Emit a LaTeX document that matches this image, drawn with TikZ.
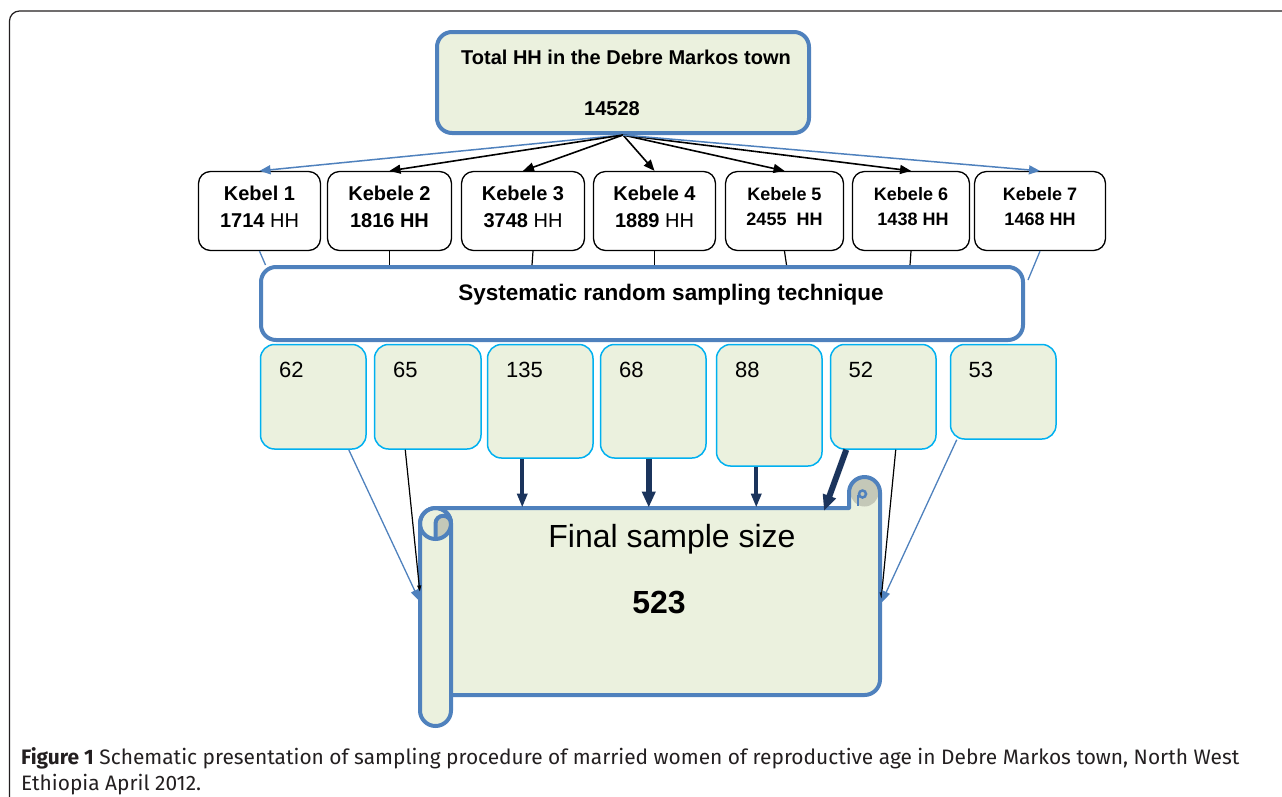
\documentclass[tikz,border=0pt]{standalone}
\usepackage{fontspec}
\setmainfont{Liberation Sans}
\newfontfamily\capfont{Fira Sans}
\usetikzlibrary{arrows.meta,calc}
\definecolor{pblue}{RGB}{79,129,189}
\definecolor{pgreen}{RGB}{235,241,222}
\definecolor{pcyan}{RGB}{0,176,240}
\definecolor{pnavy}{RGB}{27,52,92}
\definecolor{pgray}{RGB}{196,200,184}
\definecolor{capink}{RGB}{35,31,32}
\begin{document}
\begin{tikzpicture}[x=1pt,y=-1pt,
 thickblue/.style={draw=pblue, line width=4pt},
 topbox/.style={thickblue, fill=pgreen, rounded corners=15pt, inner sep=0pt},
 sysbox/.style={thickblue, fill=white, rounded corners=15pt, inner sep=0pt},
 kbox/.style={draw=black, line width=1.3pt, fill=white, rounded corners=12pt, inner sep=0pt, minimum height=79pt, align=center, text depth=9pt},
 kbig/.style={kbox, font=\bfseries\fontsize{20}{27}\selectfont},
 ksmall/.style={kbox, font=\bfseries\fontsize{18}{25}\selectfont},
 sbox/.style={draw=pcyan, line width=1.5pt, fill=pgreen, rounded corners=14pt, inner sep=0pt, anchor=north west},
 numtext/.style={anchor=base west, inner sep=0pt, font=\fontsize{22}{26}\selectfont},
 blackarrow/.style={draw=black, line width=1.6pt, -{Triangle[length=11pt,width=9pt]}},
 bluearrow/.style={draw=pblue, line width=1.5pt, -{Triangle[length=11pt,width=9pt]}},
 blueline/.style={draw=pblue, line width=1.3pt},
 blackline/.style={draw=black, line width=1.2pt},
 bluetip/.style={draw=pblue, line width=1.3pt, -{Triangle[length=12pt,width=8pt]}},
 blacktip/.style={draw=black, line width=1.2pt, -{Triangle[length=6pt,width=4pt]}},
 navyarrow/.style={draw=pnavy, line width=4pt, -{Triangle[length=14pt,width=10pt]}},
 navybig/.style={draw=pnavy, line width=6pt, -{Triangle[length=16pt,width=13pt]}},
]
\useasboundingbox (0,0) rectangle (1282,796);

% outer frame
\draw[capink, line width=1.2pt, rounded corners=10pt] (9.5,805) -- (9.5,11) -- (1295,11);

% main boxes
\node[topbox, minimum width=372pt, minimum height=101pt] (top) at (623,82.5) {};
\node[inner sep=0pt, minimum width=460pt, minimum height=249pt] (final) at (650,601.5) {};
\coordinate (sheettop) at (650,507.5);

\node[kbig, minimum width=122pt] (k1) at (259.5,211) {Kebel 1\\1714 \mdseries HH};
\node[kbig, minimum width=124pt] (k2) at (389.5,211) {Kebele 2\\1816 HH};
\node[kbig, minimum width=123pt] (k3) at (523,211) {Kebele 3\\3748 \mdseries HH};
\node[kbig, minimum width=122pt] (k4) at (654.5,211) {Kebele 4\\1889 \mdseries HH};
\node[ksmall, minimum width=118pt] (k5) at (784.5,211) {Kebele 5\\2455~ HH};
\node[ksmall, minimum width=117pt] (k6) at (911,211) {Kebele 6\\\hspace*{4pt}1438 HH};
\node[ksmall, minimum width=131pt] (k7) at (1040,211) {Kebele 7\\1468 HH};

\node[sysbox, minimum width=762pt, minimum height=73pt] (sys) at (642,303.5) {};

% connectors kebele -> systematic
\draw[blueline] (k1.south) -- ($(k1.south |- sys.north)+(6,0)$);
\draw[blackline] (k2.south) -- (k2.south |- sys.north);
\draw[blackline] ($(k3.south)+(10,0)$) -- ($(k3.south |- sys.north)+(9,0)$);
\draw[blackline] (k4.south) -- (k4.south |- sys.north);
\draw[blackline] (k5.south) -- ($(k5.south |- sys.north)+(2,0)$);
\draw[blackline] (k6.south) -- ($(k6.south |- sys.north)+(-1,0)$);
\draw[blueline] (k7.south) -- ($(sys.east)+(3,-23.5)$);

% top -> kebele arrows
\draw[bluearrow] (top.south) -- (k1.north);
\draw[blackarrow] (top.south) -- (k2.north);
\draw[blackarrow] (top.south) -- (k3.north);
\draw[blackarrow] (top.south) -- (k4.north);
\draw[blackarrow] (top.south) -- (k5.north);
\draw[blackarrow] (top.south) -- (k6.north);
\draw[bluearrow] (top.south) -- (k7.north);

% texts
\node[anchor=base, inner sep=0pt, font=\bfseries\fontsize{20}{24}\selectfont] (toptitle) at (626,64) {Total HH in the Debre Markos town};
\node[anchor=base, inner sep=0pt, font=\bfseries\fontsize{20}{24}\selectfont] (toptotal) at (612,115) {14528};
\node[anchor=base, inner sep=0pt, font=\bfseries\fontsize{22.5}{26}\selectfont] (systext) at (671,300) {Systematic random sampling technique};

% sample boxes
\node[sbox, minimum width=105.5pt, minimum height=104.5pt] (b62) at (259.75,343.75) {};
\node[sbox, minimum width=106.5pt, minimum height=104.5pt] (b65) at (373.75,343.75) {};
\node[sbox, minimum width=105.5pt, minimum height=113.5pt] (b135) at (486.75,343.75) {};
\node[sbox, minimum width=105.5pt, minimum height=113.5pt] (b68) at (599.75,343.75) {};
\node[sbox, minimum width=105.5pt, minimum height=121.5pt] (b88) at (715.75,343.75) {};
\node[sbox, minimum width=105.5pt, minimum height=104.5pt] (b52) at (829.75,343.75) {};
\node[sbox, minimum width=105.5pt, minimum height=94.5pt] (b53) at (949.75,343.75) {};
\node[numtext] (n62) at (279,377) {62};
\node[numtext] (n65) at (393,377) {65};
\node[numtext] (n135) at (506,377) {135};
\node[numtext] (n68) at (619,377) {68};
\node[numtext] (n88) at (735,377) {88};
\node[numtext] (n52) at (848.5,377) {52};
\node[numtext] (n53) at (968.5,377) {53};

% scroll: sheet
\fill[pgreen] (436,508) -- (849,508) -- (849,492.5) .. controls (849,483.94) and (855.94,477) .. (864.5,477) .. controls (873.06,477) and (880,483.94) .. (880,492.5) -- (880,679.5) .. controls (880,688.06) and (873.06,695) .. (864.5,695) -- (436,695) -- cycle;
\fill[pgray] (864.5,492.5) circle[radius=14pt];
\draw[thickblue, line join=round] (436,508) -- (849,508) -- (849,492.5) .. controls (849,483.94) and (855.94,477) .. (864.5,477) .. controls (873.06,477) and (880,483.94) .. (880,492.5) -- (880,679.5) .. controls (880,688.06) and (873.06,695) .. (864.5,695) -- (436,695);
\draw[pblue, line width=2.5pt] (862.5,494) circle[radius=3.5pt];
\draw[pblue, line width=2pt] (857.5,495) -- (857.5,506);
% scroll: left tube
\draw[thickblue, fill=pgreen, rounded corners=15.5pt] (420,508) rectangle (451,726);
\fill[pgray] (435.5,523.5) .. controls (435.5,519.22) and (438.97,515.75) .. (443.25,515.75) .. controls (447.53,515.75) and (451,519.22) .. (451,523.5) .. controls (451,532.06) and (444.06,539) .. (435.5,539) -- cycle;
\draw[thickblue] (435.5,523.5) circle[radius=15.5pt];
\draw[thickblue] (435.5,539) -- (435.5,523.5) .. controls (435.5,519.22) and (438.97,515.75) .. (443.25,515.75) .. controls (447.53,515.75) and (451,519.22) .. (451,523.5);

\node[anchor=base, inner sep=0pt, font=\fontsize{32}{36}\selectfont] (finaltext) at (672,547) {Final sample size};
\node[anchor=base, inner sep=0pt, font=\bfseries\fontsize{32}{36}\selectfont] (finalnum) at (659,613) {523};

% sample -> final connectors
\coordinate (tip52) at (824,511);
\draw[bluetip] ($(b62.south)+(35.5,0)$) -- (final.west);
\draw[blacktip] ($(b65.south)+(-22.5,0)$) -- ($(final.west)+(0,-10)$);
\draw[navyarrow] ($(b135.south)+(-18,0)$) coordinate (s135) -- (s135 |- sheettop);
\draw[navybig] ($(b68.south)+(-4.5,0)$) coordinate (s68) -- (s68 |- sheettop);
\draw[navyarrow] ($(b88.south)+(-13,0)$) coordinate (s88) -- (s88 |- sheettop);
\draw[navybig] ($(b52.south)+(-37,0)$) -- (tip52);
\draw[blacktip] ($(b52.south)+(12.5,0)$) -- ($(final.east)+(1,-3)$);
\draw[bluetip] ($(b53.south)+(-46.5,0)$) -- ($(final.east)+(1,1.5)$);

% caption
\node[anchor=north west, inner sep=0pt, align=left, text=capink, font=\capfont\fontsize{20.9}{26.5}\selectfont] (caption) at (21,747) {\textbf{Figure 1} Schematic presentation of sampling procedure of married women of reproductive age in Debre Markos town, North West\\Ethiopia April 2012.};
\end{tikzpicture}
\end{document}
